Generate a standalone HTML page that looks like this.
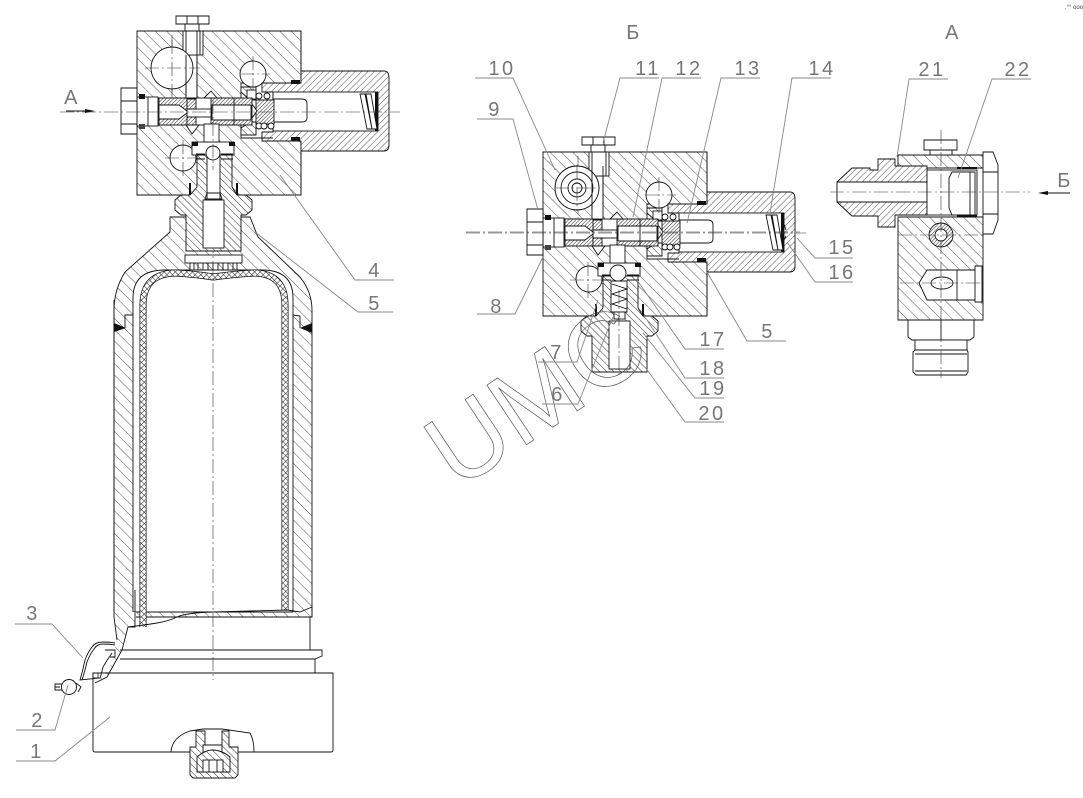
<!DOCTYPE html>
<html><head><meta charset="utf-8"><style>
html,body{margin:0;padding:0;background:#fff}
svg{display:block}
text{font-family:"Liberation Sans",sans-serif;font-size:20px;fill:#777;letter-spacing:2.5px;text-anchor:middle}
.o{stroke:#111;stroke-width:.9;fill:#fff}
.n{stroke:#111;stroke-width:.9;fill:none}
.c{stroke:#333;stroke-width:.6;fill:none;stroke-dasharray:14 3 2 3}
.l{stroke:#888;stroke-width:.9;fill:none}
.h1{stroke:#111;stroke-width:.9;fill:url(#h1)}
.h2{stroke:#111;stroke-width:.9;fill:url(#h2)}
.h3{stroke:#111;stroke-width:.9;fill:url(#h3)}
.h4{stroke:#111;stroke-width:.9;fill:url(#h4)}
.k{fill:#111;stroke:none}
</style></head><body>
<svg xmlns="http://www.w3.org/2000/svg" width="1083" height="798" viewBox="0 0 1083 798">
<defs>
<pattern id="h1" width="8" height="8" patternUnits="userSpaceOnUse" patternTransform="rotate(45)"><rect width="8" height="8" fill="#fff"/><line x1="0" y1="0" x2="8" y2="0" stroke="#555" stroke-width="1"/></pattern>
<pattern id="h2" width="4.5" height="4.5" patternUnits="userSpaceOnUse" patternTransform="rotate(-45)"><rect width="5" height="5" fill="#fff"/><line x1="0" y1="0" x2="5" y2="0" stroke="#555" stroke-width="1"/></pattern>
<pattern id="h3" width="5" height="5" patternUnits="userSpaceOnUse" patternTransform="rotate(45)"><rect width="5" height="5" fill="#fff"/><line x1="0" y1="0" x2="5" y2="0" stroke="#333" stroke-width="1"/></pattern>
<pattern id="h4" width="2.6" height="2.6" patternUnits="userSpaceOnUse" patternTransform="rotate(-45)"><rect width="3" height="3" fill="#fff"/><line x1="0" y1="0" x2="3" y2="0" stroke="#222" stroke-width="1"/></pattern>
<pattern id="xh" width="4" height="4" patternUnits="userSpaceOnUse" patternTransform="rotate(45)"><rect width="4" height="4" fill="#fff"/><path d="M0 0H4M0 0V4" stroke="#222" stroke-width="1"/></pattern>
<g id="core">
<path class="h1" d="M137,31H301V83H241V138H301V195H137Z"/>
<rect x="242" y="84" width="60" height="54" fill="#fff"/>
<path class="n" d="M301,31V83M301,138V195"/>
<rect class="o" x="137" y="98" width="106" height="27"/>
<circle class="o" cx="253" cy="74" r="13"/>
<circle class="o" cx="183" cy="158" r="13"/>
<path class="h2" d="M301,71H384Q389,71 389,78V145Q389,151 384,151H301V141H262V132H273V92H262V83H301Z"/>
<rect class="o" x="273" y="92" width="105" height="39"/>
<rect class="k" x="291" y="80" width="9" height="4"/><rect class="k" x="291" y="137" width="9" height="4"/>
<rect class="k" x="375" y="92" width="3" height="39"/>
<path class="o" d="M273,99H302Q307,99 307,104V118Q307,122 302,122H273Z"/>
<path class="o" d="M360,94L365,94L372,129L367,129ZM366,94L371,94L377,129L372,129Z"/>
<rect class="h4" x="256" y="100" width="18" height="24"/>
<path class="h3" d="M241,87H256V100H250L241,92ZM241,135H256V122H250L241,128Z"/>
<rect class="o" x="247" y="90" width="9" height="9"/>
<circle class="o" cx="259" cy="96" r="3"/><circle class="o" cx="267" cy="96" r="3"/>
<circle class="o" cx="259" cy="126" r="3"/><circle class="o" cx="264" cy="126" r="3"/><circle class="o" cx="271" cy="126" r="3"/>
<path class="n" d="M241,138H273"/>
<rect class="o" x="137" y="97" width="21" height="29"/>
<path class="n" d="M148,97V126"/>
<rect class="k" x="139" y="94" width="6" height="5"/><rect x="139" y="124" width="6" height="5" fill="#444"/>
<rect class="h4" x="159" y="98" width="35" height="27"/>
<path class="o" d="M159,105H179L187,111V113L179,119H159Z"/>
<rect class="h4" x="211" y="98" width="41" height="27"/>
<rect class="o" x="212" y="105" width="39" height="15" rx="1"/>
<path class="n" d="M234,98V125"/>
<path class="o" d="M252,104L257,111L252,118Z"/>
<rect class="o" x="187" y="109" width="24" height="8"/>
<path class="h4" d="M187,99H196V109H187ZM187,117H196V125H187Z"/>
<path class="o" d="M204,98L211,91L217,98ZM186,125L192,134L199,125Z"/>
<rect class="o" x="186" y="55" width="11" height="43"/>
<rect class="o" x="183" y="31" width="20" height="24"/>
<path class="n" d="M186,31V55M200,31V55"/>
<path class="o" d="M185,31V24H199V31ZM176,16H209V24H176Z"/>
<path class="n" d="M187,16V24M198,16V24"/>
<path class="o" d="M121,88H137V134H121Z"/>
<path class="n" d="M121,101H137M121,124H137"/>
<rect class="o" x="192" y="142" width="42" height="13"/>
<rect class="k" x="192" y="142" width="6" height="4"/><rect class="k" x="229" y="142" width="6" height="4"/>
<path class="h3" d="M197,155H232V187L237,195H246L252,200V210L246,215H241V251H186V215H181L175,210V200L181,195H190L197,187Z"/>
<rect class="k" x="189" y="183" width="2" height="12"/><rect class="k" x="236" y="183" width="2" height="12"/>
<rect class="o" x="203" y="200" width="21" height="48"/>
<rect class="o" x="204" y="124" width="15" height="18"/>
<path class="n" d="M196,154H205M221,154H233M196,159H205M221,159H233"/>
<path class="c" d="M60,112H400M172,35V100"/>
</g>
</defs>
<rect width="1083" height="798" fill="#fff"/>

<!-- bottle -->
<path class="h1" d="M170,217H250L258,237L300,277Q312,292 312,310V617H114V310Q114,290 125,272L170,232Z"/>
<path class="o" d="M133,640V298Q133,270 165,270H262Q293,270 293,298V612H133Z"/>
<path d="M113,612H136V645H113Z" fill="#fff"/>
<path fill="url(#h1)" d="M114,612V617L117,640L110,668L95,683L107,677L122,650L128,627H135V612Z"/>
<path class="n" d="M114,300V617L117,640M135,590V627H128L122,650L107,677L95,683"/>
<path fill="none" stroke="#111" stroke-width="7" d="M143,627V305Q143,274 175,273Q195,274 213,277Q235,274 255,273Q285,274 285,305V610"/>
<path fill="none" stroke="url(#xh)" stroke-width="5.6" d="M143,627V305Q143,274 175,273Q195,274 213,277Q235,274 255,273Q285,274 285,305V610"/>
<path class="k" d="M114,323V332L126,328Z"/><path class="k" d="M312,323V333L300,328Z"/>
<path class="n" d="M125,328V315H133M300,328V316L293,315"/>
<path class="n" d="M128,627Q145,625 157,623T177,617T213,612L287,610L300,612L312,607V617H177"/>
<path class="n" d="M310,617V650M120,650H322V656L315,659H120M315,659V673"/>
<rect class="o" x="185" y="255" width="57" height="8"/>
<path class="n" d="M190,263V270M194,263V270M198,263V270M203,263V270M208,263V270M213,263V270M218,263V270M223,263V270M228,263V270M233,263V270M237,263V270"/>
<rect class="k" x="186" y="216" width="3" height="7"/><rect class="k" x="238" y="216" width="3" height="7"/>
<path class="c" d="M213,195V680"/>
<path class="n" d="M115,643Q110,642 103,642Q95,642 92,647Q88,652 85,660Q83,670 80,680L100,678Q102,672 103,667Q107,660 112,653M115,645Q110,644 103,644Q97,644 94,649Q90,654 87,662Q85,671 82,680M105,650H115V657H110"/>
<rect x="93" y="673" width="5" height="5" fill="none" stroke="#111" stroke-width=".8"/>
<circle class="o" cx="69" cy="687" r="7.5"/>
<path class="n" d="M62,684H55V690H62M55,687H60M76,683L81,687L78,692"/>

<!-- base -->
<path class="n" d="M93,673H333V750Q333,752 331,752H95Q93,752 93,750Z"/>
<path class="o" d="M171,752Q172,737 190,731L203,729H222L250,733Q254,740 254,752Z"/>
<path class="h3" d="M190,747V775L193,778H235L238,775V747H229V731H222V745H205V731H196V747Z"/>
<path class="o" d="M203,745H222V752Q214,756 203,752Z"/>
<path class="h3" d="M197,757Q205,750 212,750Q222,750 230,757V772H197Z"/>
<rect class="o" x="203" y="760" width="20" height="12"/>
<path class="n" d="M209,760V772M217,760V772"/>

<use href="#core"/>
<rect class="o" x="207" y="155" width="13" height="45"/>
<circle class="o" cx="213" cy="153" r="7"/>
<path class="n" d="M207,193H220L222,199H205Z"/>
<circle cx="172" cy="68" r="21" style="fill:#fff;stroke:#111;stroke-width:.9"/>
<path class="n" d="M186,55V98H197V31"/>
<path class="c" d="M145,68H200M172,40V96M240,74H270M253,56V90M165,158H200M183,140V176M213,100V170"/>

<!-- mid -->
<use href="#core" x="406" y="121"/>
<circle class="o" cx="577" cy="188" r="22"/>
<circle class="n" cx="577" cy="188" r="16"/><circle class="n" cx="577" cy="188" r="9"/><circle class="n" cx="577" cy="188" r="5"/>
<path class="n" d="M592,172V210M603,166V206"/>
<circle class="o" cx="618" cy="273" r="8"/>
<path class="o" d="M611,281H627V312H611Z"/>
<path class="n" d="M612,284L627,289L612,294L627,299L612,304L627,309"/>
<rect class="o" x="614" y="312" width="11" height="7"/>
<path class="c" d="M555,188H600M577,165V211M645,195H676M659,177V213M570,280H606M588,262V298M619,290V375M466,232H800"/>
<path class="n" d="M784,224L786,230M784,240L786,236"/>

<!-- right view -->
<path class="h1" d="M898,155H983V168H898Z"/>
<path class="h1" d="M898,217H983V320H898Z"/>
<path class="o" d="M924,140H957V150H924ZM930,150H952V155H930Z"/>
<path class="h2" d="M837,182L852,168H870V170H878V159H895V166H927V215H895V227H878V216H852L837,202Z"/>
<path class="o" d="M837,182H927V202H837Z"/>
<rect class="o" x="927" y="170" width="50" height="45"/>
<path class="o" d="M952,172H975V215H952L949,208V178Z"/>
<path class="n" d="M970,172V215"/>
<rect class="k" x="957" y="167" width="20" height="2"/><rect class="k" x="957" y="215" width="20" height="2"/>
<path class="o" d="M983,152H993L998,165V220L993,234H983Z"/>
<path class="n" d="M983,172H998M983,214H998"/>
<circle class="h4" cx="941" cy="235" r="12"/><circle class="o" cx="941" cy="235" r="6"/>
<path class="o" d="M919,283L927,270H975V300H927ZM975,266H982V302H975Z"/>
<ellipse class="n" cx="942" cy="283" rx="11" ry="6"/>
<path class="n" d="M957,270V300"/>
<path class="o" d="M908,320H974V337L970,340H912L908,337Z"/>
<path class="n" d="M941,320V340"/>
<rect class="o" x="915" y="340" width="52" height="10"/>
<path class="o" d="M913,352L915,350H967L968,352V372L966,375H916L913,372Z"/>
<path class="n" d="M915,354H967M915,371H967"/>
<path class="c" d="M830,192H1030M941,130V378M898,235H983M900,283H983"/>

<!-- watermark -->
<g transform="translate(457,491) rotate(-33.7)"><text x="0" y="0" style="font-size:104px;fill:none;stroke:#555;stroke-width:.7;letter-spacing:0;text-anchor:start">UMC</text></g>

<!-- leaders -->
<path class="l" d="M475,78H513L555,170M477,119H513L538,210M701,78H662L633,217M659,78H620L603,143M760,78H721L687,223M831,78H792L770,213M853,258H815L797,238M853,282H815L787,242M786,341H747L707,272M477,314H515L543,257M724,349H685L637,280M724,378H685L647,320M724,398H695L643,333M724,422H685L645,367M538,362H577L598,300M542,404H578L613,317"/>
<path class="l" d="M948,79H909L897,157M1031,79H992L958,178"/>
<path class="l" d="M394,280H355L280,175M393,312H358L255,232M15,624H52L83,658M16,730H55L68,685M16,761H55L110,717"/>

<!-- arrows -->
<path class="n" d="M66,111H90"/><path class="k" d="M95,111L85,109V113Z"/>
<path class="n" d="M1043,193H1070"/><path class="k" d="M1038,193L1048,191V195Z"/>

<!-- labels -->
<text x="72" y="104">А</text><text x="634" y="39">Б</text><text x="953" y="39">А</text><text x="1065" y="187">Б</text>
<text x="502" y="75">10</text><text x="648" y="75">11</text><text x="689" y="75">12</text><text x="748" y="75">13</text><text x="822" y="75">14</text>
<text x="495" y="116">9</text><text x="842" y="254">15</text><text x="842" y="279">16</text><text x="768" y="338">5</text><text x="497" y="313">8</text>
<text x="713" y="346">17</text><text x="713" y="375">18</text><text x="713" y="395">19</text><text x="712" y="420">20</text>
<text x="557" y="359">7</text><text x="558" y="401">6</text>
<text x="932" y="76">21</text><text x="1018" y="76">22</text>
<text x="375" y="277">4</text><text x="375" y="310">5</text>
<text x="33" y="620">3</text><text x="38" y="727">2</text><text x="37" y="758">1</text>
<text x="1074" y="9" style="font-size:6px;letter-spacing:0;fill:#444">.°° ooo</text>
</svg>
</body></html>
